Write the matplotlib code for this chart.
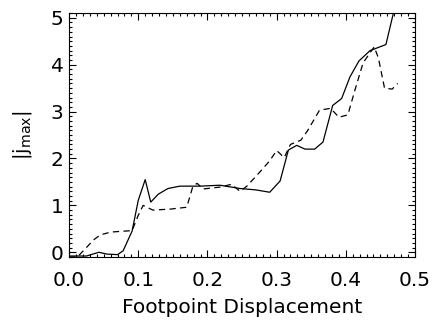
import numpy as np
import matplotlib
matplotlib.use('Agg')
import matplotlib.pyplot as plt
from matplotlib.ticker import MultipleLocator

# peak current vs footpoint displacement, two runs
x_solid = [0.0, 0.025, 0.043, 0.055, 0.07, 0.078, 0.091, 0.1, 0.11, 0.118, 0.129,
           0.143, 0.16, 0.19, 0.218, 0.247, 0.27, 0.29, 0.305, 0.317, 0.329, 0.341,
           0.355, 0.367, 0.381, 0.394, 0.406, 0.419, 0.435, 0.458, 0.472]
j_solid = [-0.08, -0.08, 0.0, -0.04, -0.05, 0.03, 0.45, 1.11, 1.55, 1.07, 1.24,
           1.36, 1.41, 1.41, 1.43, 1.36, 1.33, 1.28, 1.52, 2.18, 2.28, 2.2,
           2.2, 2.35, 3.13, 3.28, 3.74, 4.08, 4.3, 4.43, 5.3]

x_dash = [0.0, 0.012, 0.025, 0.035, 0.045, 0.06, 0.078, 0.091, 0.1, 0.107, 0.121,
          0.146, 0.17, 0.179, 0.185, 0.194, 0.218, 0.235, 0.247, 0.257, 0.275, 0.29,
          0.3, 0.311, 0.32, 0.335, 0.345, 0.362, 0.378, 0.39, 0.403, 0.413, 0.425,
          0.441, 0.447, 0.456, 0.467, 0.475]
j_dash = [-0.1, -0.1, 0.1, 0.26, 0.37, 0.43, 0.45, 0.46, 0.79, 1.0, 0.9,
          0.92, 0.96, 1.41, 1.47, 1.35, 1.39, 1.45, 1.3, 1.41, 1.7, 1.95,
          2.17, 2.02, 2.3, 2.39, 2.6, 3.03, 3.07, 2.88, 2.93, 3.45, 4.04,
          4.38, 4.15, 3.5, 3.48, 3.6]

plt.rcParams['font.family'] = 'DejaVu Sans'
fig = plt.figure(figsize=(4.32, 3.2), dpi=100)
ax = fig.add_axes([0.16, 0.197, 0.8006, 0.762])

ax.plot(x_solid, j_solid, color='black', lw=0.9)
ax.plot(x_dash, j_dash, color='black', lw=0.9, linestyle=(0, (5, 3.5)))

ax.set_xlim(0.0, 0.5)
ax.set_ylim(-0.1, 5.1)
ax.xaxis.set_major_locator(MultipleLocator(0.1))
ax.xaxis.set_minor_locator(MultipleLocator(0.01))
ax.yaxis.set_major_locator(MultipleLocator(1))
ax.yaxis.set_minor_locator(MultipleLocator(0.1))
ax.xaxis.set_major_formatter(matplotlib.ticker.FormatStrFormatter('%.1f'))

ax.tick_params(which='both', direction='in', top=True, right=True, width=0.8)
ax.tick_params(which='major', length=5)
ax.tick_params(which='minor', length=2.5)
ax.tick_params(axis='x', which='major', pad=10, labelsize=14.5)
ax.tick_params(axis='y', which='major', pad=4, labelsize=14.5)
for s in ax.spines.values():
    s.set_linewidth(0.8)

ax.set_xlabel('Footpoint Displacement', fontsize=14.5, labelpad=6)
ax.set_ylabel(r'|j$_{\mathrm{max}}$|', fontsize=14.5, labelpad=12)

fig.savefig('out.png', dpi=100)
